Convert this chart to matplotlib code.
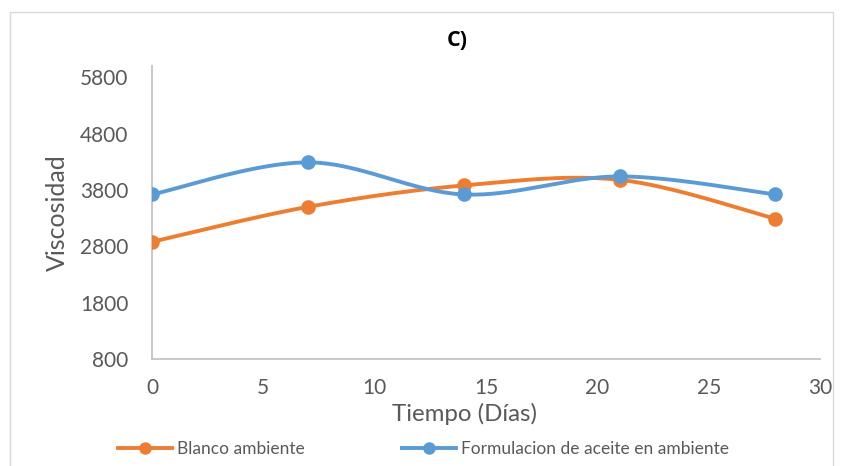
import numpy as np
import matplotlib
matplotlib.use("Agg")
import matplotlib.pyplot as plt
from matplotlib.patches import Rectangle
from matplotlib.lines import Line2D

plt.rcParams['font.family'] = ['Lato', 'DejaVu Sans']

days = [0, 7, 14, 21, 28]
blanco = [2880, 3500, 3880, 3980, 3290]
formulacion = [3720, 4290, 3720, 4040, 3720]
series_names = ["Blanco ambiente", "Formulacion de aceite en ambiente"]
colors = ["#ED7D31", "#5B9BD5"]
yticks = [800, 1800, 2800, 3800, 4800, 5800]
xticks = [0, 5, 10, 15, 20, 25, 30]


def smooth(x, y, n=40):
    x = np.asarray(x, float); y = np.asarray(y, float)
    px = np.concatenate([[x[0]], x, [x[-1]]])
    py = np.concatenate([[y[0]], y, [y[-1]]])
    ox, oy = [], []
    for i in range(1, len(px) - 2):
        p0 = np.array([px[i - 1], py[i - 1]]); p1 = np.array([px[i], py[i]])
        p2 = np.array([px[i + 1], py[i + 1]]); p3 = np.array([px[i + 2], py[i + 2]])
        c1 = p1 + (p2 - p0) / 6.0
        c2 = p2 - (p3 - p1) / 6.0
        t = np.linspace(0, 1, n)[:, None]
        b = (1 - t) ** 3 * p1 + 3 * (1 - t) ** 2 * t * c1 + 3 * (1 - t) * t ** 2 * c2 + t ** 3 * p2
        ox.extend(b[:, 0]); oy.extend(b[:, 1])
    return ox, oy


W, H = 843, 466
fig = plt.figure(figsize=(W / 100, H / 100), dpi=100)
ax = fig.add_axes([152 / W, 1 - 359 / H, (820 - 152) / W, (359 - 66) / H])

for vals, c in zip([blanco, formulacion], colors):
    sx, sy = smooth(days, vals)
    ax.plot(sx, sy, color=c, lw=2.8, solid_capstyle='round', zorder=3)
    ax.plot(days, vals, 'o', color=c, ms=9.5, zorder=4)

ax.set_xlim(0, 30)
ax.set_ylim(800, 6000)
ax.set_xticks(xticks)
ax.set_yticks(yticks)
ax.tick_params(axis='y', length=0, labelsize=15, colors="#595959", pad=17)
ax.tick_params(axis='x', length=0, labelsize=15, colors="#595959", pad=14)
for s in ['top', 'right']:
    ax.spines[s].set_visible(False)
for s in ['left', 'bottom']:
    ax.spines[s].set_color("#BFBFBF")
    ax.spines[s].set_linewidth(1.2)

fig.text(457 / W, 1 - 41 / H, "C)", ha='center', va='center', fontsize=15.5, fontweight='bold',
         color='black', family=['Open Sans', 'DejaVu Sans'])
fig.text(465 / W, 1 - 414 / H, "Tiempo (Días)", ha='center', va='center', fontsize=17.3, color="#595959")
fig.text(57 / W, 1 - 213 / H, "Viscosidad", ha='center', va='center', rotation=90, fontsize=18, color="#595959")

handles = [Line2D([0], [0], color=c, lw=2.8, marker='o', ms=8) for c in colors]
fig.legend(handles, series_names, loc='center left', bbox_to_anchor=(118 / W, 1 - 449 / H), ncol=2,
           frameon=False, handlelength=3.1, columnspacing=5.6, labelcolor="#595959",
           handletextpad=0.3, borderaxespad=0, borderpad=0,
           prop={'family': ['Lato', 'DejaVu Sans'], 'size': 12.5})

fig.add_artist(Rectangle((10 / W, -0.01), (833 - 10) / W, 1 - 12 / H + 0.01, transform=fig.transFigure,
                         fill=False, edgecolor="#D9D9D9", lw=1))

fig.savefig("out.png", dpi=100)
